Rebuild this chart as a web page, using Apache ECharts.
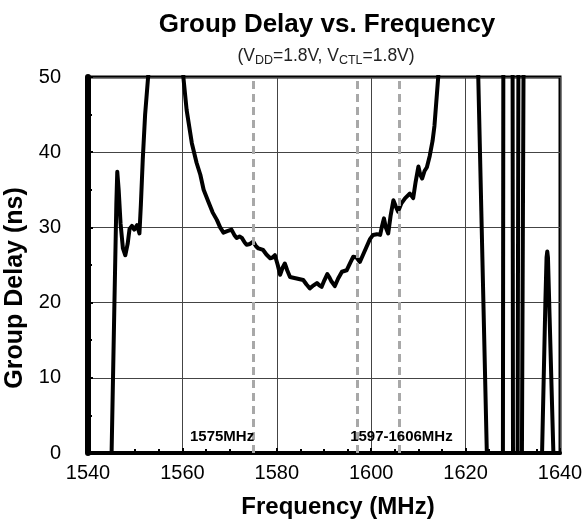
<!DOCTYPE html>
<html>
<head>
<meta charset="utf-8">
<script src="https://cdn.jsdelivr.net/npm/echarts@6/dist/echarts.min.js"></script>
<style>
  html, body { margin: 0; padding: 0; background: #fff; }
  #chart { width: 585px; height: 524px; }
</style>
</head>
<body>
<div id="chart"></div>
<script>
  // group delay trace (values above 50 / below 0 are cut off by the plot frame)
  const freqMHz = [
    1544.95, 1545.0, 1545.6, 1546.0, 1546.2, 1546.5, 1546.9, 1547.4, 1547.9, 1548.4,
    1548.8, 1549.3, 1549.8, 1550.1, 1550.4, 1550.9, 1551.2, 1551.6, 1552.1, 1552.8,
    1553.2, 1556.5, 1559.9, 1560.2, 1560.9, 1562.0, 1563.0, 1563.8, 1564.5, 1565.5,
    1566.4, 1567.3, 1568.0, 1568.7, 1569.5, 1570.4, 1571.0, 1571.5, 1572.1, 1572.6,
    1573.2, 1573.6, 1574.3, 1575.0, 1575.6, 1576.1, 1577.1, 1577.8, 1578.6, 1579.1,
    1579.6, 1580.2, 1580.7, 1581.2, 1581.7, 1582.2, 1582.8, 1583.5, 1584.2, 1584.9,
    1585.6, 1586.3, 1587.0, 1587.8, 1588.5, 1589.0, 1589.5, 1590.1, 1590.7, 1591.2,
    1591.6, 1592.3, 1593.0, 1593.8, 1594.8, 1595.5, 1596.2, 1596.9, 1597.6, 1598.3,
    1599.0, 1599.7, 1600.4, 1601.2, 1601.9, 1602.3, 1602.7, 1603.1, 1603.6, 1604.1,
    1604.7, 1605.2, 1605.7, 1606.4, 1607.2, 1608.2, 1608.9, 1609.4, 1610.0, 1610.4,
    1610.8, 1611.3, 1611.8, 1612.4, 1613.0, 1613.4, 1614.2, 1614.6, 1618.5, 1622.6,
    1624.5, 1624.7, 1627.9, 1628.0, 1629.95, 1630.05, 1631.0, 1631.2, 1632.3, 1631.9,
    1636.1, 1636.2, 1636.9, 1637.15, 1637.3, 1637.45, 1637.8, 1638.6, 1638.7
  ];
  const delayNs = [
    -3, 0, 20, 33, 37.4, 35, 30.5, 27.2, 26.3, 27.8,
    29.8, 30.2, 29.7, 29.8, 30.3, 29.2, 33, 39, 45, 50.5,
    58, 120, 58, 50, 45.6, 41.2, 38.6, 37.0, 35.0, 33.4,
    32.0, 31.0, 30.0, 29.3, 29.5, 29.7, 29.0, 28.6, 28.8, 28.6,
    28.0, 27.7, 27.8, 28.1, 27.5, 27.2, 27.0, 26.4, 25.9, 26.0,
    26.3, 25.0, 23.7, 24.6, 25.2, 24.3, 23.4, 23.3, 23.2, 23.1,
    23.0, 22.4, 21.9, 22.3, 22.6, 22.3, 22.1, 23.0, 23.8, 23.3,
    22.8, 22.2, 23.2, 24.1, 24.3, 25.2, 26.1, 26.0, 25.4, 26.4,
    27.4, 28.4, 29.0, 29.1, 29.0, 30.2, 31.2, 30.0, 29.2, 31.5,
    33.6, 32.8, 32.1, 33.2, 33.9, 34.5, 33.9, 36.0, 38.1, 37.0,
    36.5, 37.5, 38.0, 39.5, 41.5, 43.5, 50, 58, 120, 52.3,
    0, -5, -5, 55, 55, -5, -5, 55, 55, -5,
    -5, 0, 20, 26, 26.8, 26, 18, 0, -5
  ];

  const markerFreqs = [1575, 1597, 1606];
  const annotations = [
    { text: '1575MHz', at: 1575.2, align: 'right' },
    { text: '1597-1606MHz', at: 1606.4, align: 'center' }
  ];
  const annoLevel = 2.2;

  const font = '"Liberation Sans", Arial, sans-serif';

  const chart = echarts.init(document.getElementById('chart'));
  chart.setOption({
    animation: false,
    backgroundColor: '#fff',
    title: [
      {
        text: 'Group Delay vs. Frequency',
        left: 322,
        top: 7,
        textAlign: 'center',
        textStyle: { fontFamily: font, fontSize: 26, fontWeight: 'bold', color: '#000' }
      },
      {
        text: '(V{s|DD}=1.8V, V{s|CTL}=1.8V)',
        left: 321,
        top: 41,
        textAlign: 'center',
        textStyle: {
          fontFamily: font, fontSize: 17.5, fontWeight: 'normal', color: '#222', lineHeight: 17,
          rich: {
            s: { fontFamily: font, fontSize: 12.5, fontWeight: 'normal', color: '#222', lineHeight: 21, verticalAlign: 'bottom' }
          }
        }
      }
    ],
    grid: {
      left: 88,
      right: 25,
      top: 77,
      bottom: 71,
      outerBoundsMode: 'none',
      show: true,
      borderColor: '#000',
      borderWidth: 3,
      backgroundColor: 'transparent'
    },
    xAxis: {
      type: 'value',
      min: 1540,
      max: 1640,
      interval: 20,
      name: 'Frequency (MHz)',
      nameLocation: 'middle',
      nameGap: 42,
      nameTextStyle: { fontFamily: font, fontSize: 24, fontWeight: 'bold', color: '#000', padding: [0, 0, 0, 28] },
      axisLine: { onZero: false, lineStyle: { color: '#000', width: 4 } },
      axisTick: { inside: true, length: 5, lineStyle: { color: '#000', width: 2 } },
      minorTick: { show: true, splitNumber: 4, length: 4, lineStyle: { color: '#000', width: 2 } },
      splitLine: { show: true, lineStyle: { color: '#444', width: 1 } },
      axisLabel: { fontFamily: font, fontSize: 20, color: '#000', margin: 10, formatter: v => String(v) }
    },
    yAxis: {
      type: 'value',
      min: 0,
      max: 50,
      interval: 10,
      name: 'Group Delay (ns)',
      nameLocation: 'middle',
      nameGap: 55,
      nameTextStyle: { fontFamily: font, fontSize: 25, fontWeight: 'bold', color: '#000', padding: [0, 46, 0, 0] },
      axisLine: { show: true, onZero: false, lineStyle: { color: '#000', width: 6 } },
      axisTick: { show: true, inside: true, length: 5, lineStyle: { color: '#000', width: 2 } },
      minorTick: { show: true, splitNumber: 2, length: 4, lineStyle: { color: '#000', width: 2 } },
      splitLine: { show: true, lineStyle: { color: '#444', width: 1 } },
      axisLabel: { fontFamily: font, fontSize: 20, color: '#000', margin: 27 }
    },
    series: [
      {
        type: 'line',
        data: freqMHz.map((f, i) => [f, delayNs[i]]),
        showSymbol: false,
        symbol: 'none',
        clip: true,
        z: 4,
        lineStyle: { color: '#000', width: 4, join: 'round' },
        markLine: {
          silent: true,
          symbol: 'none',
          label: { show: false },
          lineStyle: { color: '#a8a8a8', width: 3, type: [8, 5] },
          data: markerFreqs.map(f => ({ xAxis: f }))
        }
      }
    ]
  });

  chart.setOption({
    graphic: annotations.map(a => {
      const pt = chart.convertToPixel({ gridIndex: 0 }, [a.at, annoLevel]);
      return {
        type: 'text',
        x: pt[0],
        y: pt[1],
        z: 10,
        style: {
          text: a.text,
          fontFamily: font,
          fontSize: 15,
          fontWeight: 'bold',
          fill: '#000',
          align: a.align,
          verticalAlign: 'middle'
        }
      };
    })
  });
</script>
</body>
</html>
